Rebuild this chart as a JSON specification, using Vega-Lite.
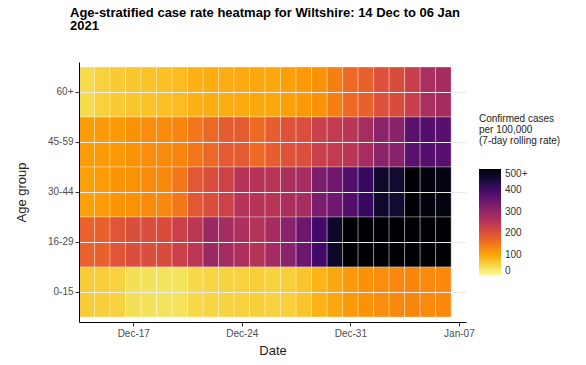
{
  "$schema": "https://vega.github.io/schema/vega-lite/v6.json",
  "width": 387,
  "height": 260,
  "autosize": {"type": "none"},
  "padding": {"left": 79, "top": 62, "right": 120, "bottom": 43},
  "background": "white",
  "title": {
    "text": ["Age-stratified case rate heatmap for Wiltshire: 14 Dec to 06 Jan", "2021"],
    "anchor": "start",
    "frame": "group",
    "dx": -9,
    "offset": 29,
    "font": "Liberation Sans",
    "fontSize": 13,
    "fontWeight": "bold",
    "color": "#000000",
    "lineHeight": 13.5
  },
  "config": {"view": {"stroke": null}, "font": "Liberation Sans"},
  "data": {
    "values": [
      {"date": "2020-12-14", "age": "60+", "rate": 45},
      {"date": "2020-12-15", "age": "60+", "rate": 55},
      {"date": "2020-12-16", "age": "60+", "rate": 62},
      {"date": "2020-12-17", "age": "60+", "rate": 67},
      {"date": "2020-12-18", "age": "60+", "rate": 70},
      {"date": "2020-12-19", "age": "60+", "rate": 73},
      {"date": "2020-12-20", "age": "60+", "rate": 77},
      {"date": "2020-12-21", "age": "60+", "rate": 88},
      {"date": "2020-12-22", "age": "60+", "rate": 92},
      {"date": "2020-12-23", "age": "60+", "rate": 92},
      {"date": "2020-12-24", "age": "60+", "rate": 95},
      {"date": "2020-12-25", "age": "60+", "rate": 98},
      {"date": "2020-12-26", "age": "60+", "rate": 98},
      {"date": "2020-12-27", "age": "60+", "rate": 105},
      {"date": "2020-12-28", "age": "60+", "rate": 112},
      {"date": "2020-12-29", "age": "60+", "rate": 120},
      {"date": "2020-12-30", "age": "60+", "rate": 140},
      {"date": "2020-12-31", "age": "60+", "rate": 165},
      {"date": "2021-01-01", "age": "60+", "rate": 178},
      {"date": "2021-01-02", "age": "60+", "rate": 200},
      {"date": "2021-01-03", "age": "60+", "rate": 207},
      {"date": "2021-01-04", "age": "60+", "rate": 232},
      {"date": "2021-01-05", "age": "60+", "rate": 272},
      {"date": "2021-01-06", "age": "60+", "rate": 280},

      {"date": "2020-12-14", "age": "45-59", "rate": 108},
      {"date": "2020-12-15", "age": "45-59", "rate": 110},
      {"date": "2020-12-16", "age": "45-59", "rate": 113},
      {"date": "2020-12-17", "age": "45-59", "rate": 120},
      {"date": "2020-12-18", "age": "45-59", "rate": 125},
      {"date": "2020-12-19", "age": "45-59", "rate": 127},
      {"date": "2020-12-20", "age": "45-59", "rate": 132},
      {"date": "2020-12-21", "age": "45-59", "rate": 150},
      {"date": "2020-12-22", "age": "45-59", "rate": 168},
      {"date": "2020-12-23", "age": "45-59", "rate": 185},
      {"date": "2020-12-24", "age": "45-59", "rate": 185},
      {"date": "2020-12-25", "age": "45-59", "rate": 165},
      {"date": "2020-12-26", "age": "45-59", "rate": 182},
      {"date": "2020-12-27", "age": "45-59", "rate": 198},
      {"date": "2020-12-28", "age": "45-59", "rate": 205},
      {"date": "2020-12-29", "age": "45-59", "rate": 230},
      {"date": "2020-12-30", "age": "45-59", "rate": 240},
      {"date": "2020-12-31", "age": "45-59", "rate": 252},
      {"date": "2021-01-01", "age": "45-59", "rate": 278},
      {"date": "2021-01-02", "age": "45-59", "rate": 310},
      {"date": "2021-01-03", "age": "45-59", "rate": 315},
      {"date": "2021-01-04", "age": "45-59", "rate": 370},
      {"date": "2021-01-05", "age": "45-59", "rate": 378},
      {"date": "2021-01-06", "age": "45-59", "rate": 372},

      {"date": "2020-12-14", "age": "30-44", "rate": 105},
      {"date": "2020-12-15", "age": "30-44", "rate": 108},
      {"date": "2020-12-16", "age": "30-44", "rate": 117},
      {"date": "2020-12-17", "age": "30-44", "rate": 120},
      {"date": "2020-12-18", "age": "30-44", "rate": 128},
      {"date": "2020-12-19", "age": "30-44", "rate": 130},
      {"date": "2020-12-20", "age": "30-44", "rate": 150},
      {"date": "2020-12-21", "age": "30-44", "rate": 190},
      {"date": "2020-12-22", "age": "30-44", "rate": 205},
      {"date": "2020-12-23", "age": "30-44", "rate": 225},
      {"date": "2020-12-24", "age": "30-44", "rate": 258},
      {"date": "2020-12-25", "age": "30-44", "rate": 258},
      {"date": "2020-12-26", "age": "30-44", "rate": 255},
      {"date": "2020-12-27", "age": "30-44", "rate": 270},
      {"date": "2020-12-28", "age": "30-44", "rate": 278},
      {"date": "2020-12-29", "age": "30-44", "rate": 330},
      {"date": "2020-12-30", "age": "30-44", "rate": 345},
      {"date": "2020-12-31", "age": "30-44", "rate": 380},
      {"date": "2021-01-01", "age": "30-44", "rate": 415},
      {"date": "2021-01-02", "age": "30-44", "rate": 462},
      {"date": "2021-01-03", "age": "30-44", "rate": 458},
      {"date": "2021-01-04", "age": "30-44", "rate": 520},
      {"date": "2021-01-05", "age": "30-44", "rate": 490},
      {"date": "2021-01-06", "age": "30-44", "rate": 488},

      {"date": "2020-12-14", "age": "16-29", "rate": 175},
      {"date": "2020-12-15", "age": "16-29", "rate": 178},
      {"date": "2020-12-16", "age": "16-29", "rate": 195},
      {"date": "2020-12-17", "age": "16-29", "rate": 205},
      {"date": "2020-12-18", "age": "16-29", "rate": 205},
      {"date": "2020-12-19", "age": "16-29", "rate": 207},
      {"date": "2020-12-20", "age": "16-29", "rate": 228},
      {"date": "2020-12-21", "age": "16-29", "rate": 250},
      {"date": "2020-12-22", "age": "16-29", "rate": 290},
      {"date": "2020-12-23", "age": "16-29", "rate": 280},
      {"date": "2020-12-24", "age": "16-29", "rate": 268},
      {"date": "2020-12-25", "age": "16-29", "rate": 260},
      {"date": "2020-12-26", "age": "16-29", "rate": 280},
      {"date": "2020-12-27", "age": "16-29", "rate": 315},
      {"date": "2020-12-28", "age": "16-29", "rate": 350},
      {"date": "2020-12-29", "age": "16-29", "rate": 400},
      {"date": "2020-12-30", "age": "16-29", "rate": 465},
      {"date": "2020-12-31", "age": "16-29", "rate": 540},
      {"date": "2021-01-01", "age": "16-29", "rate": 580},
      {"date": "2021-01-02", "age": "16-29", "rate": 600},
      {"date": "2021-01-03", "age": "16-29", "rate": 620},
      {"date": "2021-01-04", "age": "16-29", "rate": 640},
      {"date": "2021-01-05", "age": "16-29", "rate": 650},
      {"date": "2021-01-06", "age": "16-29", "rate": 630},

      {"date": "2020-12-14", "age": "0-15", "rate": 60},
      {"date": "2020-12-15", "age": "0-15", "rate": 58},
      {"date": "2020-12-16", "age": "0-15", "rate": 55},
      {"date": "2020-12-17", "age": "0-15", "rate": 40},
      {"date": "2020-12-18", "age": "0-15", "rate": 37},
      {"date": "2020-12-19", "age": "0-15", "rate": 35},
      {"date": "2020-12-20", "age": "0-15", "rate": 36},
      {"date": "2020-12-21", "age": "0-15", "rate": 48},
      {"date": "2020-12-22", "age": "0-15", "rate": 50},
      {"date": "2020-12-23", "age": "0-15", "rate": 53},
      {"date": "2020-12-24", "age": "0-15", "rate": 55},
      {"date": "2020-12-25", "age": "0-15", "rate": 58},
      {"date": "2020-12-26", "age": "0-15", "rate": 55},
      {"date": "2020-12-27", "age": "0-15", "rate": 58},
      {"date": "2020-12-28", "age": "0-15", "rate": 68},
      {"date": "2020-12-29", "age": "0-15", "rate": 85},
      {"date": "2020-12-30", "age": "0-15", "rate": 98},
      {"date": "2020-12-31", "age": "0-15", "rate": 112},
      {"date": "2021-01-01", "age": "0-15", "rate": 120},
      {"date": "2021-01-02", "age": "0-15", "rate": 125},
      {"date": "2021-01-03", "age": "0-15", "rate": 130},
      {"date": "2021-01-04", "age": "0-15", "rate": 132},
      {"date": "2021-01-05", "age": "0-15", "rate": 128},
      {"date": "2021-01-06", "age": "0-15", "rate": 130}
    ]
  },
  "mark": {"type": "rect", "width": 15.5, "stroke": "white", "strokeWidth": 0.8, "strokeOpacity": 0.4},
  "encoding": {
    "x": {
      "field": "date",
      "type": "temporal",
      "scale": {
        "type": "utc",
        "domain": [
          {"year": 2020, "month": 12, "date": 13, "hours": 12, "utc": true},
          {"year": 2021, "month": 1, "date": 7, "hours": 11, "utc": true}
        ]
      },
      "axis": {
        "title": "Date",
        "values": [
          {"year": 2020, "month": 12, "date": 17, "utc": true},
          {"year": 2020, "month": 12, "date": 24, "utc": true},
          {"year": 2020, "month": 12, "date": 31, "utc": true},
          {"year": 2021, "month": 1, "date": 7, "utc": true}
        ],
        "labelExpr": "utcFormat(datum.value, '%b-%d')",
        "grid": false,
        "domainColor": "#000000",
        "domainWidth": 1,
        "tickColor": "#333333",
        "tickSize": 4,
        "labelFontSize": 10,
        "labelColor": "#4d4d4d",
        "labelPadding": 2,
        "labelFlush": false,
        "titleFontSize": 13,
        "titleFontWeight": "normal",
        "titleColor": "#222222",
        "titlePadding": 6
      }
    },
    "y": {
      "field": "age",
      "type": "ordinal",
      "sort": ["60+", "45-59", "30-44", "16-29", "0-15"],
      "scale": {"paddingInner": 0, "paddingOuter": 0.1},
      "axis": {
        "title": "Age group",
        "bandPosition": 0.5,
        "grid": true,
        "gridColor": "#ebebeb",
        "domainColor": "#000000",
        "domainWidth": 1,
        "tickColor": "#333333",
        "tickSize": 4,
        "labelFontSize": 10,
        "labelColor": "#4d4d4d",
        "labelPadding": 2,
        "titleFontSize": 13,
        "titleFontWeight": "normal",
        "titleColor": "#222222",
        "titlePadding": 19
      }
    },
    "color": {
      "field": "rate",
      "type": "quantitative",
      "scale": {"scheme": "inferno", "reverse": true, "domain": [0, 500], "clamp": true},
      "legend": {
        "orient": "none",
        "legendX": 400,
        "legendY": 52,
        "title": ["Confirmed cases", "\u00a0per 100,000", "\u00a0(7-day rolling rate)"],
        "titleFontSize": 10,
        "titleFontWeight": "normal",
        "titleColor": "#222222",
        "titleLineHeight": 11,
        "titlePadding": 23,
        "gradientLength": 107,
        "gradientThickness": 22,
        "gradientStrokeWidth": 0,
        "values": [0, 100, 200, 300, 400, 500],
        "labelExpr": "datum.value >= 500 ? '500+' : datum.label",
        "labelFontSize": 10,
        "labelColor": "#333333",
        "labelOffset": 4
      }
    }
  }
}
